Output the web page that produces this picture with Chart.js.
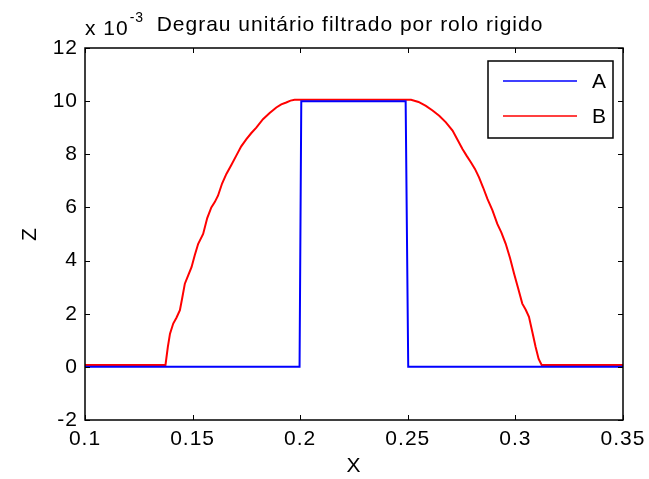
<!DOCTYPE html>
<html>
<head>
<meta charset="utf-8">
<script src="https://cdn.jsdelivr.net/npm/chart.js@4"></script>
<style>
  html, body { margin: 0; padding: 0; background: #fff; }
  #wrap { width: 649px; height: 479px; }
</style>
</head>
<body>
<div id="wrap"><canvas id="chart" width="649" height="479"></canvas></div>
<script>
// Dados (Z em unidades de 10^-3)
const titulo = 'Degrau unitário filtrado por rolo rigido';
const xTicks = [0.1, 0.15, 0.2, 0.25, 0.3, 0.35];
const yTicks = [-2, 0, 2, 4, 6, 8, 10, 12];

// Série A: degrau
const aX = [0.1, 0.1997, 0.2005, 0.2490, 0.2502, 0.35];
const aZ = [0, 0, 10, 10, 0, 0];

// Série B: degrau filtrado
const bX = [0.1, 0.1374, 0.1385, 0.1395, 0.1410, 0.1425, 0.1441, 0.1452, 0.1464, 0.1480, 0.1495, 0.1510,
            0.1526, 0.1549, 0.1568, 0.1587, 0.1603, 0.1618, 0.1637, 0.1657, 0.1680, 0.1703, 0.1726,
            0.1750, 0.1773, 0.1796, 0.1827, 0.1858, 0.1889, 0.1912, 0.1935, 0.1955, 0.1974,
            0.2515, 0.2550, 0.2584, 0.2615, 0.2646, 0.2677, 0.2708, 0.2731, 0.2754, 0.2773, 0.2793,
            0.2812, 0.2831, 0.2850, 0.2870, 0.2893, 0.2916, 0.2935, 0.2955, 0.2975, 0.2994, 0.3013,
            0.3032, 0.3048, 0.3063, 0.3079, 0.3094, 0.3108, 0.3122, 0.35];
const bZ = [0.07, 0.07, 0.75, 1.25, 1.63, 1.85, 2.13, 2.6, 3.13, 3.45, 3.75, 4.2,
            4.63, 5.0, 5.6, 6.0, 6.2, 6.44, 6.9, 7.26, 7.6, 7.95, 8.3,
            8.57, 8.8, 9.0, 9.32, 9.55, 9.76, 9.88, 9.95, 10.02, 10.05,
            10.05, 9.97, 9.82, 9.65, 9.45, 9.2, 8.89, 8.55, 8.2, 7.95, 7.7,
            7.45, 7.13, 6.75, 6.32, 5.9, 5.38, 5.05, 4.63, 4.1, 3.5, 2.95,
            2.38, 2.15, 1.88, 1.3, 0.75, 0.3, 0.07, 0.07];

const FONTE = '"Liberation Sans", Arial, Helvetica, sans-serif';
const TAM = 21;

function pontos(xs, ys) {
    return xs.map((x, i) => ({ x: x, y: ys[i] }));
}

// Espaçamento de letras como na captura do MATLAB
const espacamento = {
    id: 'espacamento',
    beforeUpdate(chart) { chart.ctx.letterSpacing = '1px'; },
    beforeDraw(chart) { chart.ctx.letterSpacing = '1px'; }
};

// Desenha título, expoente, marcas internas e legenda no estilo MATLAB
const estiloMatlab = {
    id: 'estiloMatlab',
    afterDraw(chart) {
        const ctx = chart.ctx;
        const area = chart.chartArea;
        const sx = chart.scales.x;
        const sy = chart.scales.y;
        ctx.save();

        // moldura
        ctx.strokeStyle = '#000';
        ctx.lineWidth = 1.5;
        ctx.strokeRect(area.left, area.top, area.right - area.left, area.bottom - area.top);

        // marcas internas
        ctx.lineWidth = 1;
        ctx.beginPath();
        xTicks.forEach(v => {
            const px = Math.round(sx.getPixelForValue(v)) + 0.5;
            ctx.moveTo(px, area.bottom); ctx.lineTo(px, area.bottom - 5);
            ctx.moveTo(px, area.top); ctx.lineTo(px, area.top + 5);
        });
        yTicks.forEach(v => {
            const py = Math.round(sy.getPixelForValue(v)) + 0.5;
            ctx.moveTo(area.left, py); ctx.lineTo(area.left + 5, py);
            ctx.moveTo(area.right, py); ctx.lineTo(area.right - 5, py);
        });
        ctx.stroke();

        // título
        ctx.fillStyle = '#000';
        ctx.font = TAM + 'px ' + FONTE;
        ctx.textAlign = 'center';
        ctx.textBaseline = 'middle';
        ctx.fillText(titulo, 350, 25);

        // expoente do eixo
        ctx.textAlign = 'left';
        ctx.fillText('x 10', area.left, 29);
        const w = ctx.measureText('x 10').width;
        ctx.font = '14px ' + FONTE;
        ctx.fillText('-3', area.left + w + 1, 18);

        // legenda
        const lx = 488, ly = 61, lw = 125, lh = 77;
        ctx.fillStyle = '#fff';
        ctx.fillRect(lx, ly, lw, lh);
        ctx.strokeStyle = '#000';
        ctx.lineWidth = 1.5;
        ctx.strokeRect(lx, ly, lw, lh);
        ctx.font = TAM + 'px ' + FONTE;
        chart.data.datasets.forEach((ds, i) => {
            const y = ly + 20 + i * 35;
            ctx.strokeStyle = ds.borderColor;
            ctx.lineWidth = 1.5;
            ctx.beginPath();
            ctx.moveTo(503, y); ctx.lineTo(577, y);
            ctx.stroke();
            ctx.fillStyle = '#000';
            ctx.textAlign = 'left';
            ctx.fillText(ds.label, 592, y + 1);
        });
        ctx.restore();
    }
};

new Chart(document.getElementById('chart'), {
    type: 'line',
    data: {
        datasets: [
            {
                label: 'A',
                data: pontos(aX, aZ),
                borderColor: '#0000ff',
                borderWidth: 2,
                pointRadius: 0,
                tension: 0
            },
            {
                label: 'B',
                data: pontos(bX, bZ),
                borderColor: '#ff0000',
                borderWidth: 2,
                pointRadius: 0,
                tension: 0
            }
        ]
    },
    options: {
        responsive: false,
        animation: false,
        layout: { padding: { top: 48, right: 26, left: 0, bottom: 0 } },
        plugins: {
            legend: { display: false },
            tooltip: { enabled: false }
        },
        scales: {
            x: {
                type: 'linear',
                min: 0.1,
                max: 0.35,
                afterBuildTicks: s => { s.ticks = xTicks.map(v => ({ value: v })); },
                afterFit: s => { s.height = 59; s.paddingLeft = 0; s.paddingRight = 0; },
                grid: { display: false, drawTicks: false },
                border: { display: false },
                ticks: {
                    padding: 7,
                    color: '#000',
                    maxRotation: 0,
                    font: { family: FONTE, size: TAM },
                    callback: v => String(v)
                },
                title: {
                    display: true,
                    text: 'X',
                    color: '#000',
                    padding: { top: 0, bottom: 0 },
                    font: { family: FONTE, size: TAM }
                }
            },
            y: {
                min: -2,
                max: 12,
                afterBuildTicks: s => { s.ticks = yTicks.map(v => ({ value: v })); },
                afterFit: s => { s.width = 85; s.paddingTop = 0; s.paddingBottom = 0; },
                grid: { display: false, drawTicks: false },
                border: { display: false },
                ticks: {
                    padding: 7,
                    color: '#000',
                    font: { family: FONTE, size: TAM },
                    callback: v => String(v)
                },
                title: {
                    display: true,
                    text: 'Z',
                    color: '#000',
                    padding: { top: 18, bottom: 0 },
                    font: { family: FONTE, size: TAM }
                }
            }
        }
    },
    plugins: [espacamento, estiloMatlab]
});
</script>
</body>
</html>
